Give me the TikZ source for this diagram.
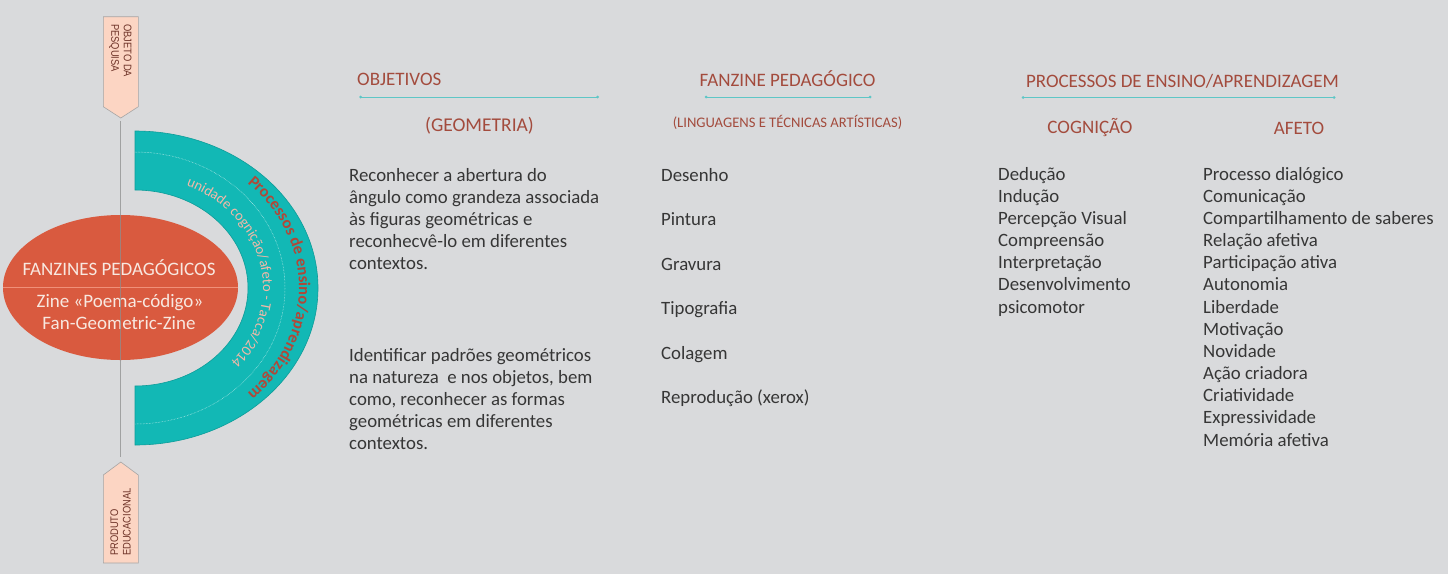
\documentclass[tikz,border=0pt]{standalone}
\usepackage{fontspec}
\setmainfont{Carlito}
\newfontfamily\tagfont[FakeStretch=0.85]{Liberation Sans}
\usetikzlibrary{decorations.text,shapes.geometric}
\definecolor{bgc}{HTML}{D9DADC}
\definecolor{tealc}{HTML}{12B8B5}
\definecolor{tealedge}{HTML}{0E9C99}
\definecolor{redc}{HTML}{D95A3F}
\definecolor{redline}{HTML}{F09079}
\definecolor{headc}{HTML}{A34B3D}
\definecolor{bodyc}{HTML}{363636}
\definecolor{tagfill}{HTML}{FCD5C3}
\definecolor{tagedge}{HTML}{A5A5A5}
\definecolor{tagtext}{HTML}{6E3328}
\definecolor{ulc}{HTML}{5EC6C6}
\definecolor{proctext}{HTML}{B04838}
\definecolor{unitext}{HTML}{F3B9A8}
\definecolor{ellitext}{HTML}{F8E8E0}
\definecolor{axisc}{HTML}{8E8E8E}
\begin{document}
\begin{tikzpicture}[x=1pt,y=1pt,
  heading/.style={text=headc, font=\fontsize{19}{22}\selectfont, inner sep=0pt, anchor=base},
  subheading/.style={text=headc, font=\fontsize{19.5}{22}\selectfont, inner sep=0pt, anchor=base},
  smallheading/.style={text=headc, font=\fontsize{14.6}{17}\selectfont, inner sep=0pt, anchor=base},
  body/.style={text=bodyc, font=\fontsize{18.8}{22.2}\selectfont, inner sep=0pt, anchor=base west},
  elltext/.style={text=ellitext, font=\fontsize{19}{22}\selectfont, inner sep=0pt, anchor=base},
  tagbox/.style={fill=tagfill, draw=tagedge, line width=0.6},
  tagtxt/.style={text=tagtext, font=\tagfont\fontsize{11}{12.5}\selectfont, inner sep=0pt, align=left, anchor=west},
  uline/.style={draw=ulc, line width=0.8},
  udot/.style={fill=ulc}]

\fill[bgc] (0,0) rectangle (1448,-574);
\useasboundingbox (0,0) rectangle (1448,-574);

% teal half ring
\filldraw[fill=tealc, draw=tealedge, line width=0.6]
  (135,-131) arc[start angle=90, end angle=-90, x radius=183, y radius=157]
  -- (135,-386) arc[start angle=-90, end angle=90, x radius=113, y radius=98] -- cycle;
\draw[white, densely dotted, line width=0.5, opacity=0.8]
  (135,-152) arc[start angle=90, end angle=-90, x radius=150, y radius=136];
\path[decorate, decoration={text along path, text align=center, text color=proctext,
  text={|\bfseries\fontsize{16.5}{17}\selectfont|Processos de ensino/aprendizagem}}]
  (135,-144) arc[start angle=90, end angle=-90, x radius=164, y radius=144];
\path[decorate, decoration={text along path, text align=center, text color=unitext,
  text={|\fontsize{14.5}{15}\selectfont|unidade cognição/afeto - Tacca/2014}}]
  (135,-176) arc[start angle=90, end angle=-66, x radius=128, y radius=112];

% red ellipse
\node[ellipse, fill=redc, minimum width=235, minimum height=145, inner sep=0pt] (fz) at (120.5,-287.5) {};
\draw[redline, line width=1] (fz.west) -- (fz.east);
\node[elltext] (fz1) at (119,-275) {FANZINES PEDAGÓGICOS};
\node[elltext] (fz2) at (120,-307) {Zine «Poema-código»};
\node[elltext] (fz3) at (119,-329) {Fan-Geometric-Zine};

% tags and axis
\filldraw[tagbox] (103.3,-16.7) -- (138.3,-16.7) -- (138.3,-106.7) -- (120.8,-118) -- (103.3,-106.7) -- cycle;
\coordinate (toptip) at (120.8,-118);
\filldraw[tagbox] (103.3,-563) -- (138.3,-563) -- (138.3,-475) -- (120.8,-462) -- (103.3,-475) -- cycle;
\coordinate (bottip) at (120.8,-462);
\draw[axisc, line width=1.1, opacity=0.75, shorten <=3pt, shorten >=5pt] (toptip) -- (bottip);
\node[tagtxt, rotate=-90] (tagtop) at (120.5,-24) {OBJETO DA\\PESQUISA};
\node[tagtxt, rotate=90] (tagbot) at (120.5,-556) {PRODUTO\\EDUCACIONAL};

% headings
\node[heading, anchor=base west] (h1) at (357,-85) {OBJETIVOS};
\coordinate (u1a) at (360.7,-97); \coordinate (u1b) at (597.7,-97);
\draw[uline] (u1a) -- (u1b); \fill[udot] (u1a) circle (1.5); \fill[udot] (u1b) circle (1.5);
\node[subheading] (h1s) at (479.5,-131) {(GEOMETRIA)};

\node[heading] (h2) at (787.5,-86) {FANZINE PEDAGÓGICO};
\coordinate (u2a) at (706,-97); \coordinate (u2b) at (870,-97);
\draw[uline] (u2a) -- (u2b); \fill[udot] (u2a) circle (1.5); \fill[udot] (u2b) circle (1.5);
\node[smallheading] (h2s) at (787.5,-127) {(LINGUAGENS E TÉCNICAS ARTÍSTICAS)};

\node[heading] (h3) at (1182.5,-87) {PROCESSOS DE ENSINO/APRENDIZAGEM};
\coordinate (u3a) at (1023,-97.5); \coordinate (u3b) at (1334,-97.5);
\draw[uline] (u3a) -- (u3b); \fill[udot] (u3a) circle (1.5); \fill[udot] (u3b) circle (1.5);
\node[heading] (h3a) at (1090,-133) {COGNIÇÃO};
\node[heading] (h3b) at (1299,-134) {AFETO};

% objetivos
\foreach \txt [count=\i from 0] in {Reconhecer a abertura do, ângulo como grandeza associada, às figuras geométricas e, reconhecvê-lo em diferentes, contextos.}
  \node[body] (obA\i) at (349,{-181-22.1*\i}) {\txt};
\foreach \txt [count=\i from 0] in {Identificar padrões geométricos, {na natureza~ e nos objetos, bem}, {como, reconhecer as formas}, geométricas em diferentes, contextos.}
  \node[body] (obB\i) at (349,{-361-22.1*\i}) {\txt};

% fanzine
\foreach \txt [count=\i from 0] in {Desenho, Pintura, Gravura, Tipografia, Colagem, Reprodução (xerox)}
  \node[body] (fzl\i) at (661,{-181.5-44.4*\i}) {\txt};

% cognicao
\foreach \txt [count=\i from 0] in {Dedução, Indução, Percepção Visual, Compreensão, Interpretação, Desenvolvimento, psicomotor}
  \node[body] (cog\i) at (998,{-180-22.17*\i}) {\txt};

% afeto
\foreach \txt [count=\i from 0] in {Processo dialógico, Comunicação, Compartilhamento de saberes, Relação afetiva, Participação ativa, Autonomia, Liberdade, Motivação, Novidade, Ação criadora, Criatividade, Expressividade, Memória afetiva}
  \node[body] (afe\i) at (1203,{-180-22.17*\i}) {\txt};
\end{tikzpicture}
\end{document}
